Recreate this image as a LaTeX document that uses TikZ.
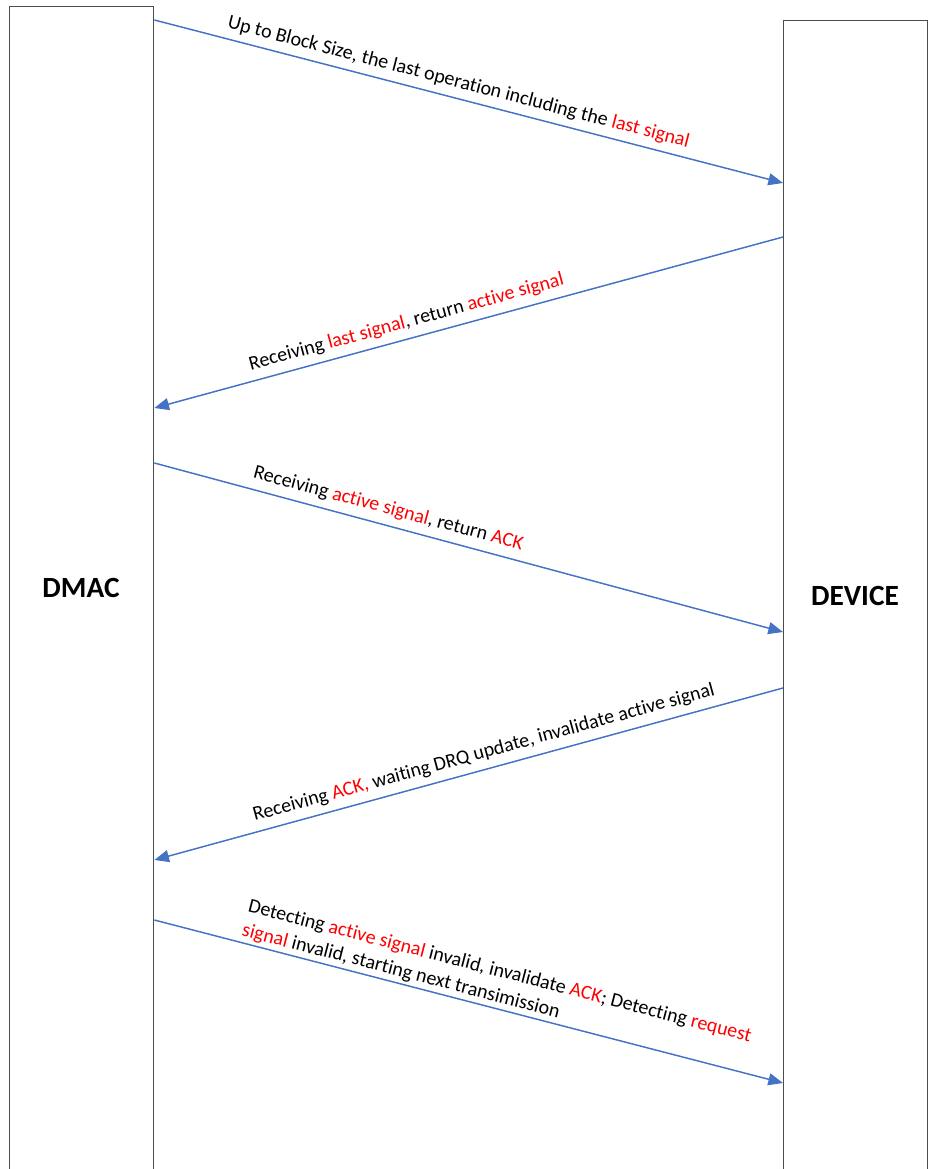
\documentclass[tikz,border=0pt]{standalone}
\usepackage{fontspec}
\setmainfont{Carlito}[RawFeature={-liga}]
\usepackage{xcolor}
\usetikzlibrary{arrows.meta,calc}
\definecolor{msgblue}{HTML}{4472C4}
\definecolor{sigred}{HTML}{FF0000}
\newcommand{\sig}[1]{\textcolor{sigred}{#1}}

\begin{document}
\begin{tikzpicture}[
  x=0.75pt, y=-0.75pt,
  font=\fontsize{15}{18.5}\selectfont,
  lifeline/.style={draw=black!70, line width=1pt, minimum width=108pt, inner sep=0pt, anchor=north west},
  actor/.style={font=\fontsize{22}{26}\selectfont\bfseries},
  msg/.style={draw=msgblue, line width=1.1pt, -{Triangle[length=11pt,width=9pt]}},
  msglabel/.style={sloped, above, inner sep=2pt, outer sep=#1},
  msglabel/.default=3.8pt
]
  \useasboundingbox (0,0) rectangle (933,1169);
  \clip (0,0) rectangle (933,1169);

  \node[lifeline, minimum height=880pt] (dmac) at (9,6) {};
  \node[lifeline, minimum height=870pt] (device) at (783,20) {};
  \node[actor] (dmacname) at (81,588) {DMAC};
  \node[actor] (devicename) at (855,596) {DEVICE};

  % message end points on the two lifelines
  \coordinate (m1a) at ($(dmac.north east)+(0,14)$);
  \coordinate (m1b) at ($(device.north west)+(0,163)$);
  \coordinate (m2a) at ($(device.north west)+(0,217)$);
  \coordinate (m2b) at ($(dmac.north east)+(0,402)$);
  \coordinate (m3a) at ($(dmac.north east)+(0,457)$);
  \coordinate (m3b) at ($(device.north west)+(0,612)$);
  \coordinate (m4a) at ($(device.north west)+(0,668)$);
  \coordinate (m4b) at ($(dmac.north east)+(0,854)$);
  \coordinate (m5a) at ($(dmac.north east)+(0,914)$);
  \coordinate (m5b) at ($(device.north west)+(0,1063)$);

  \draw[msg] (m1a) -- node[msglabel=3.4pt, pos=0.4775] (lastop) {Up to Block Size, the last operation including the \sig{last signal}} (m1b);
  \draw[msg] (m2a) -- node[msglabel, pos=0.592] (retactive) {Receiving \sig{last signal}, return \sig{active signal}} (m2b);
  \draw[msg] (m3a) -- node[msglabel, pos=0.3655] (retack) {Receiving \sig{active signal}, return \sig{ACK}} (m3b);
  \draw[msg] (m4a) -- node[msglabel, pos=0.469] (waitdrq) {Receiving \sig{ACK,} waiting DRQ update, invalidate active signal} (m4b);
  \draw[msg] (m5a) -- node[msglabel=0.5pt, pos=0.535, align=left] (nexttx) {Detecting \sig{active signal} invalid, invalidate \sig{ACK}; Detecting \sig{request}\\\sig{signal} invalid, starting next transimission} (m5b);
\end{tikzpicture}
\end{document}
